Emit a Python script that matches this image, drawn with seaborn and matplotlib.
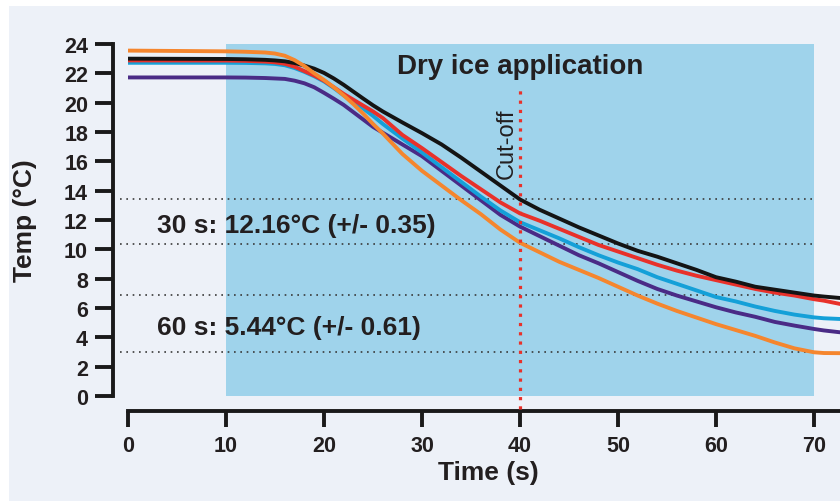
import matplotlib
matplotlib.use("Agg")
import matplotlib.pyplot as plt
from matplotlib.patches import Rectangle
import seaborn as sns
import pandas as pd

# ---- data ----
time_s = [0, 10, 12, 14, 15, 16, 17, 18, 19, 20,
          21, 22, 23, 24, 25, 26,
          28, 30, 32, 34, 36, 38, 40, 42, 44, 46, 48, 50, 52, 54, 56, 58, 60, 62, 64, 66, 68, 70,
          71, 72.7]
black = [23.0, 22.98, 22.96, 22.92, 22.88, 22.82, 22.7, 22.53, 22.32, 22.03,
         21.65, 21.22, 20.75, 20.28, 19.82, 19.4,
         18.65, 17.92, 17.15, 16.25, 15.3, 14.35, 13.4, 12.7, 12.1, 11.5, 10.95, 10.4, 9.9, 9.5,
         9.05, 8.6, 8.1, 7.8, 7.45, 7.25, 7.05, 6.85,
         6.78, 6.68]
red = [22.88, 22.87, 22.85, 22.8, 22.75, 22.65, 22.45, 22.15, 21.85, 21.5,
       21.05, 20.6, 20.2, 19.8, 19.4, 18.95,
       17.8, 16.9, 15.95, 15.0, 14.1, 13.2, 12.45, 11.95, 11.4, 10.85, 10.3, 9.85, 9.4, 8.95,
       8.55, 8.2, 7.9, 7.6, 7.3, 7.05, 6.85, 6.6,
       6.5, 6.27]
cyan = [22.72, 22.72, 22.71, 22.68, 22.64, 22.55, 22.36, 22.1, 21.8, 21.45,
        21.0, 20.5, 20.05, 19.6, 19.1, 18.55,
        17.55, 16.6, 15.6, 14.6, 13.6, 12.65, 11.85, 11.3, 10.75, 10.15, 9.6, 9.1, 8.65, 8.1,
        7.65, 7.2, 6.75, 6.45, 6.1, 5.8, 5.55, 5.36,
        5.3, 5.25]
purple = [21.72, 21.72, 21.71, 21.68, 21.65, 21.62, 21.5, 21.32, 21.05, 20.67,
          20.27, 19.85, 19.35, 18.85, 18.35, 17.95,
          17.15, 16.35, 15.35, 14.35, 13.35, 12.35, 11.55, 10.9, 10.25, 9.6, 9.05, 8.45, 7.85, 7.3,
          6.85, 6.45, 6.05, 5.7, 5.4, 5.05, 4.8, 4.57,
          4.47, 4.34]
orange = [23.55, 23.5, 23.47, 23.42, 23.35, 23.2, 22.9, 22.5, 22.0, 21.55,
          21.05, 20.5, 19.9, 19.25, 18.55, 17.9,
          16.5, 15.35, 14.35, 13.35, 12.4, 11.35, 10.45, 9.8, 9.15, 8.6, 8.05, 7.45, 6.85, 6.3,
          5.8, 5.35, 4.9, 4.5, 4.1, 3.65, 3.25, 2.98,
          2.93, 2.92]

series_names = ["purple", "cyan", "red", "black", "orange"]
series_colors = {"purple": "#4a2b86", "cyan": "#14a0d8", "red": "#e8312a",
                 "black": "#141414", "orange": "#f5862e"}
ref_levels = [13.43, 10.36, 6.88, 3.0]
cutoff_t = 40
dry_ice_window = (10, 70)
x_ticks = [0, 10, 20, 30, 40, 50, 60, 70]
y_ticks = list(range(0, 25, 2))
ann_30 = "30 s: 12.16°C (+/- 0.35)"
ann_60 = "60 s: 5.44°C (+/- 0.61)"

series_values = {"black": black, "red": red, "cyan": cyan, "purple": purple, "orange": orange}
df = pd.DataFrame(
    [(t, v, name) for name in series_names for t, v in zip(time_s, series_values[name])],
    columns=["Time (s)", "Temp", "probe"],
)

# ---- style ----
sns.set_style("ticks")
plt.rcParams["font.family"] = ["Liberation Sans", "DejaVu Sans"]
txt = "#231f20"
bg = "#edf1f8"

fig = plt.figure(figsize=(8.4, 5.02), dpi=100)
fig.patch.set_facecolor("white")
fig.patches.append(Rectangle((9 / 840, 0), 1, (502 - 7) / 502, transform=fig.transFigure,
                             facecolor=bg, edgecolor="none", zorder=-10))

ax = fig.add_axes([128 / 840, 105 / 502, 712 / 840, 352 / 502])
ax.set_facecolor("none")

ax.axvspan(*dry_ice_window, color="#9fd3eb", zorder=0, lw=0)

for lvl in ref_levels:
    ax.hlines(lvl, -0.8, 70, colors="#3a3a3a", linestyles=(0, (1, 2.8)), lw=1.2,
              zorder=1.5, clip_on=False)

sns.lineplot(data=df, x="Time (s)", y="Temp", hue="probe", hue_order=series_names,
             palette=series_colors, lw=2.8, legend=False, ax=ax, zorder=3)
for ln in ax.get_lines():
    ln.set_solid_joinstyle("round")
    ln.set_solid_capstyle("round")

ax.vlines(cutoff_t, -0.9, 21.05, colors="#e8312a", linestyles=(0, (1, 1.9)), lw=2.3,
          zorder=4, clip_on=False)

ax.set_xlim(0, 72.65)
ax.set_ylim(0, 24)
ax.set_xticks(x_ticks)
ax.set_yticks(y_ticks)

for side in ["top", "right"]:
    ax.spines[side].set_visible(False)
for side in ["left", "bottom"]:
    ax.spines[side].set_position(("outward", 10.8))
    ax.spines[side].set_linewidth(2.8)
    ax.spines[side].set_color("#1a1a1a")

ax.tick_params(axis="y", length=13, width=2.8, color="#1a1a1a", pad=5, labelsize=15.5,
               labelcolor=txt)
ax.tick_params(axis="x", length=11.5, width=2.8, color="#1a1a1a", pad=5.5, labelsize=15.5,
               labelcolor=txt)
for lab in ax.get_xticklabels() + ax.get_yticklabels():
    lab.set_fontweight("bold")

ax.set_xlabel("Time (s)", fontsize=19, fontweight="bold", color=txt)
ax.set_ylabel("Temp (°C)", fontsize=19, fontweight="bold", color=txt)
ax.xaxis.set_label_coords(0.506, -0.183)
ax.yaxis.set_label_coords(-0.128, 0.5)

ax.text(40, 22.5, "Dry ice application", ha="center", va="center", fontsize=20,
        fontweight="bold", color=txt, zorder=5)
ax.text(2.96, 11.18, ann_30, ha="left", va="baseline", fontsize=19, fontweight="bold",
        color=txt, zorder=5)
ax.text(2.96, 4.23, ann_60, ha="left", va="baseline", fontsize=19, fontweight="bold",
        color=txt, zorder=5)
ax.text(38.6, 17.25, "Cut-off", ha="center", va="center", rotation=90, fontsize=17,
        color=txt, zorder=5)

fig.savefig("out.png", dpi=100)
